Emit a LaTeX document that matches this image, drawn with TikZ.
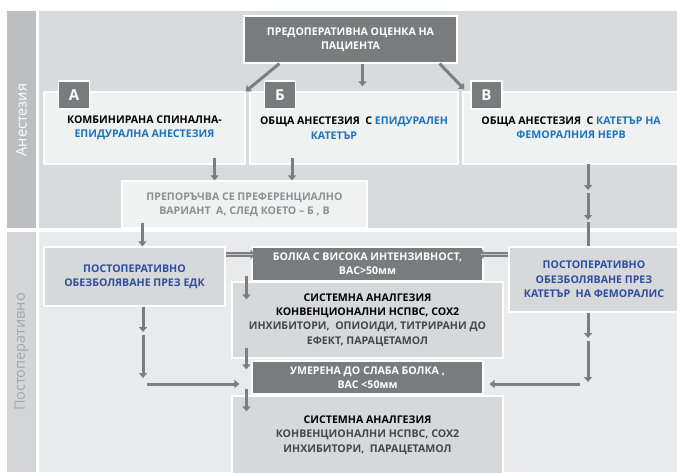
\documentclass[tikz,border=0pt]{standalone}
\usepackage{fontspec}
\setmainfont{Open Sans}
\usetikzlibrary{arrows.meta}
\definecolor{stripdark}{HTML}{BDBEC0}
\definecolor{striplight}{HTML}{D4D5D7}
\definecolor{labgrey}{HTML}{A5A6A8}
\definecolor{panelhigh}{HTML}{D9DADC}
\definecolor{panellow}{HTML}{E9EAEB}
\definecolor{boxdark}{HTML}{7A7B7D}
\definecolor{boxlight}{HTML}{F0F1F1}
\definecolor{boxgrey}{HTML}{D7D8D9}
\definecolor{arrowgrey}{HTML}{7D7E80}
\definecolor{twinfill}{HTML}{C4C5C7}
\definecolor{bluetop}{HTML}{1C74BC}
\definecolor{bluelow}{HTML}{2D4D9F}
\definecolor{txtgrey}{HTML}{8E8F91}
\definecolor{txtdark}{HTML}{45464A}
\newcommand{\blu}[1]{\textcolor{bluetop}{#1}}
\newcommand{\dk}[1]{\textcolor{txtdark}{#1}}

\begin{document}
\begin{tikzpicture}[x=1pt,y=-1pt,font=\fontsize{10.6}{14.4}\selectfont\bfseries]
  \tikzstyle{darkbox}=[draw=white,line width=1.2pt,fill=boxdark,text=white,inner sep=0pt,align=center]
  \tikzstyle{lightbox}=[draw=white,line width=1.2pt,fill=boxlight,inner sep=0pt,align=center]
  \tikzstyle{greybox}=[draw=white,line width=1.2pt,fill=boxgrey,inner sep=0pt,align=center]
  \tikzstyle{tag}=[draw=white,line width=1.2pt,fill=boxdark,text=white,minimum width=31pt,minimum height=28pt,font=\fontsize{15}{15}\selectfont\bfseries]
  \tikzstyle{sidelabel}=[rotate=90,font=\fontsize{14.5}{14.5}\selectfont]
  \tikzset{edge/.style = {draw=arrowgrey,line width=3pt,-{Triangle[length=5pt,width=8pt]}}}
  \tikzset{line/.style = {draw=arrowgrey,line width=3pt}}
  \tikzset{twin/.style = {draw=arrowgrey,line width=1.3pt,double=twinfill,double distance=1.6pt,-{Implies}}}
  \useasboundingbox (0,0) rectangle (677,472);
  % bands
  \fill[stripdark] (7,11) rectangle (36,228);
  \fill[striplight] (7,232) rectangle (36,472);
  \fill[panelhigh] (39,11) rectangle (677,228);
  \fill[panellow] (39,232) rectangle (677,472);
  \node[sidelabel,text=white] (anes) at (21.5,120) {Анестезия};
  \node[sidelabel,text=labgrey] (postop) at (21.5,352) {Постоперативно};

  % anaesthesia
  \node[darkbox,minimum width=213pt,minimum height=47pt] (pre) at (350.5,39.5) {ПРЕДОПЕРАТИВНА ОЦЕНКА НА\\ПАЦИЕНТА};
  \node[lightbox,minimum width=201pt,minimum height=72pt] (a) at (144.5,128) {КОМБИНИРАНА СПИНАЛНА-\\\blu{ЕПИДУРАЛНА АНЕСТЕЗИЯ}};
  \node[lightbox,minimum width=208pt,minimum height=72pt] (b) at (354,128) {ОБЩА АНЕСТЕЗИЯ\ \ С \blu{ЕПИДУРАЛЕН}\\\blu{КАТЕТЪР}\hspace*{40pt}};
  \node[lightbox,minimum width=216pt,minimum height=72pt] (v) at (571,128) {ОБЩА АНЕСТЕЗИЯ\ \ С \blu{КАТЕТЪР НА}\\\blu{ФЕМОРАЛНИЯ НЕРВ}};
  \node[tag] (taga) at (74,95) {А};
  \node[tag] (tagb) at (280,95) {Б};
  \node[tag] (tagv) at (486.5,95) {В};
  \node[lightbox,text=txtgrey,minimum width=245pt,minimum height=47pt] (pref) at (244.5,204.5) {ПРЕПОРЪЧВА СЕ ПРЕФЕРЕНЦИАЛНО\\ВАРИАНТ\ \ А, СЛЕД КОЕТО -- Б , В};

  % postoperative
  \node[greybox,text=bluelow,minimum width=181pt,minimum height=59pt] (edk) at (134.5,276.5) {ПОСТОПЕРАТИВНО\\ОБЕЗБОЛЯВАНЕ ПРЕЗ ЕДК};
  \node[greybox,text=bluelow,minimum width=170pt,minimum height=65pt] (fem) at (594,279.5) {ПОСТОПЕРАТИВНО\\ОБЕЗБОЛЯВАНЕ ПРЕЗ\\КАТЕТЪР\ \ НА ФЕМОРАЛИС};
  \node[darkbox,minimum width=231pt,minimum height=34pt] (high) at (367.5,264) {БОЛКА С ВИСОКА ИНТЕНЗИВНОСТ,\\ВАС>50мм};
  \node[greybox,minimum width=271pt,minimum height=76pt] (sys1) at (367.5,320) {СИСТЕМНА АНАЛГЕЗИЯ\\КОНВЕНЦИОНАЛНИ НСПВС, СОХ2\\\dk{ИНХИБИТОРИ,\ \ ОПИОИДИ, ТИТРИРАНИ ДО}\\\dk{ЕФЕКТ, ПАРАЦЕТАМОЛ}};
  \node[darkbox,minimum width=231pt,minimum height=33pt] (mod) at (367.5,377.5) {УМЕРЕНА ДО СЛАБА БОЛКА ,\\ВАС <50мм};
  \node[greybox,minimum width=271pt,minimum height=78pt] (sys2) at (367.5,435) {СИСТЕМНА АНАЛГЕЗИЯ\\\dk{КОНВЕНЦИОНАЛНИ НСПВС, СОХ2}\\\dk{ИНХИБИТОРИ,\ \ ПАРАЦЕТАМОЛ}};

  % arrows, top
  \coordinate (preL) at ([xshift=36pt]pre.south west);
  \coordinate (preM) at ([xshift=12pt]pre.south);
  \coordinate (preR) at ([xshift=-18pt]pre.south east);
  \draw[edge] (preL) -- (a.north east);
  \draw[edge] (preM) -- ([xshift=8.5pt,yshift=5pt]b.north);
  \draw[edge] (preR) -- ([xshift=2pt,yshift=2pt]v.north west);
  \coordinate (aout) at ([xshift=-31pt,yshift=7pt]a.south east);
  \coordinate (bout) at ([xshift=-62pt,yshift=7pt]b.south);
  \draw[edge] (aout) -- (aout |- pref.north);
  \draw[edge] (bout) -- (bout |- pref.north);
  \coordinate (vout) at ([xshift=17pt,yshift=1pt]v.south);
  \coordinate (v1) at (588,190);
  \coordinate (v2) at (588,220);
  \draw[edge] (vout) -- (v1);
  \draw[edge,shorten <=3pt] (v1) -- (v2);
  \draw[line,shorten <=2pt] (v2) -- (v2 |- fem.north);
  \coordinate (pout) at ([xshift=21pt,yshift=6pt]pref.south west);
  \draw[edge] (pout) -- (pout |- edk.north);

  % arrows, bottom
  \draw[twin] ([yshift=-8pt]edk.north east) -- ([xshift=5pt,yshift=-8pt]high.north west);
  \draw[twin] ([yshift=-8pt]fem.north west) -- ([xshift=-6pt,yshift=-8pt]high.north east);
  \draw[edge] ([xshift=-5pt,yshift=6pt]high.south west) -- ([xshift=15pt,yshift=-18pt]sys1.north west);
  \draw[edge] ([xshift=15pt,yshift=11pt]sys1.south west) -- ([xshift=-5pt,yshift=-9pt]mod.north west);
  \draw[edge] ([xshift=-5pt,yshift=6pt]mod.south west) -- ([xshift=15pt,yshift=-16pt]sys2.north west);
  \coordinate (eout) at ([xshift=8.5pt]edk.south);
  \coordinate (e1) at (143,332);
  \coordinate (e2) at (143,378);
  \coordinate (e3) at (147,384);
  \draw[edge] (eout) -- (e1);
  \draw[edge,shorten <=3pt] (e1) -- (e2);
  \draw[edge,shorten >=12pt] (e3) -- (e3 -| mod.west);
  \coordinate (fout) at ([xshift=-6pt]fem.south);
  \coordinate (f1) at (588,338);
  \coordinate (f2) at (588,382);
  \coordinate (f3) at (580,384);
  \draw[edge] (fout) -- (f1);
  \draw[edge,shorten <=3pt] (f1) -- (f2);
  \draw[edge,shorten >=6pt] (f3) -- (f3 -| mod.east);
\end{tikzpicture}
\end{document}
